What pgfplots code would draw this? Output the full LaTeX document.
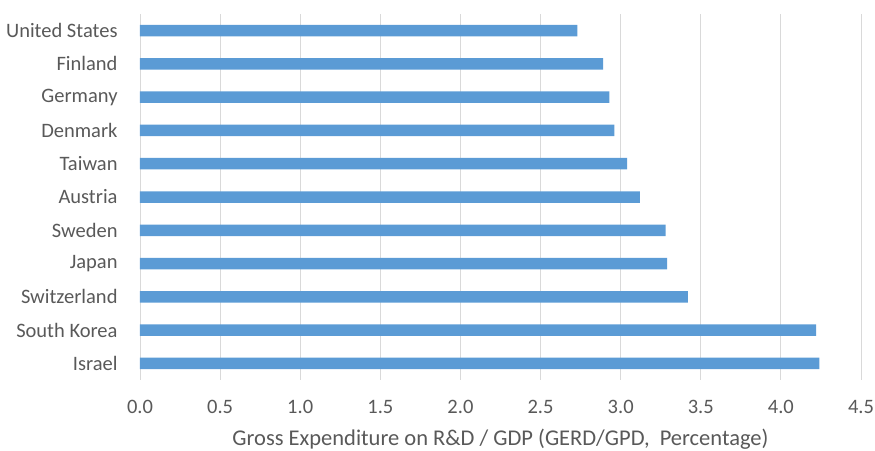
\documentclass[border=0pt]{standalone}
\usepackage{pgfplots}
\pgfplotsset{compat=1.18}
\usepackage{fontspec}
\setmainfont{Carlito}
\definecolor{barblue}{HTML}{5B9BD5}
\definecolor{txt}{HTML}{595959}
\definecolor{gridc}{HTML}{D9D9D9}
\begin{document}
\begin{tikzpicture}
\begin{axis}[
  scale only axis,
  width=721pt, height=366pt,
  xbar, bar width=11.5pt,
  xmin=0, xmax=4.5,
  ymin=-0.5, ymax=10.5,
  y dir=reverse,
  xtick={0,0.5,...,4.5},
  ytick={0,...,10},
  yticklabels={United States,Finland,Germany,Denmark,Taiwan,Austria,Sweden,Japan,Switzerland,South Korea,Israel},
  xmajorgrids, major grid style={gridc, line width=0.8pt},
  axis line style={draw=none},
  tick style={draw=none},
  /pgf/number format/.cd, fixed, fixed zerofill, precision=1, assume math mode=true,
  /pgfplots/.cd,
  every tick label/.append style={font=\fontsize{20.5}{24}\selectfont, text=txt},
  yticklabel style={anchor=east, inner sep=0pt, xshift=-18pt},
  xticklabel style={anchor=center, inner sep=0pt, yshift=-27pt},
  xlabel={Gross Expenditure on R\&D / GDP (GERD/GPD,\ \ Percentage)},
  xlabel style={font=\fontsize{22.5}{26}\selectfont, text=txt, at={(axis description cs:0.5,0)}, anchor=center, inner sep=0pt, yshift=-59.5pt, xshift=0pt},
]
\addplot[fill=barblue, draw=none] coordinates {
(2.73,0) (2.89,1) (2.93,2) (2.96,3) (3.04,4) (3.12,5) (3.28,6) (3.29,7) (3.42,8) (4.22,9) (4.24,10)
};
\end{axis}
\path[use as bounding box] ([xshift=-140pt,yshift=-70.4pt]current axis.south west) rectangle ([xshift=14pt,yshift=14pt]current axis.north east);
\end{tikzpicture}
\end{document}
